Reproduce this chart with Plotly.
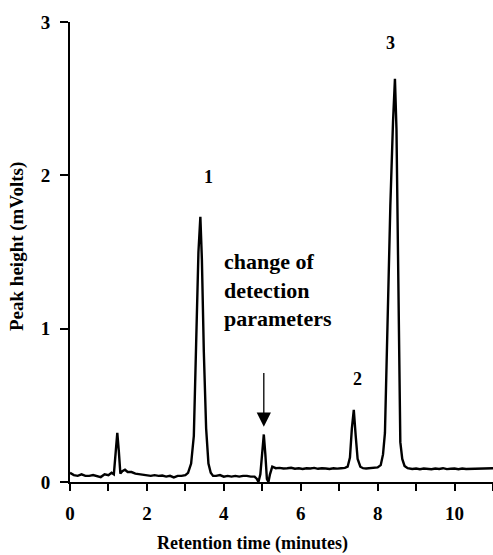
import plotly.graph_objects as go

# Chromatogram trace (time in minutes, height in mVolts)
time_min = [
    0.00, 0.10, 0.20, 0.30, 0.40, 0.50, 0.60, 0.70, 0.80, 0.90, 1.00, 1.08, 1.14,
    1.19, 1.23, 1.27, 1.31, 1.36, 1.43, 1.50, 1.60, 1.70, 1.80, 1.90, 2.00, 2.10,
    2.20, 2.30, 2.40, 2.50, 2.60, 2.70, 2.80, 2.90, 3.00, 3.07, 3.15, 3.22, 3.28,
    3.34, 3.39, 3.43, 3.48, 3.54, 3.60, 3.66, 3.72, 3.80, 3.90, 4.00, 4.10, 4.20,
    4.30, 4.40, 4.50, 4.60, 4.70, 4.80, 4.86, 4.90, 4.95, 5.00, 5.04, 5.08, 5.12,
    5.16, 5.20, 5.26, 5.35, 5.45, 5.55, 5.65, 5.75, 5.85, 5.95, 6.05, 6.15, 6.25,
    6.35, 6.45, 6.55, 6.65, 6.75, 6.85, 6.95, 7.05, 7.15, 7.22, 7.28, 7.33, 7.38,
    7.43, 7.48, 7.55, 7.62, 7.70, 7.80, 7.90, 8.00, 8.08, 8.14, 8.19, 8.25, 8.33,
    8.40, 8.45, 8.49, 8.53, 8.56, 8.59, 8.64, 8.70, 8.78, 8.90, 9.00, 9.10, 9.20,
    9.30, 9.40, 9.50, 9.60, 9.70, 9.80, 9.90, 10.00, 10.10, 10.20, 10.30, 10.40,
    10.50, 10.60, 10.70, 10.80, 10.90, 11.00,
]
height_mv = [
    0.060, 0.045, 0.040, 0.050, 0.040, 0.040, 0.045, 0.040, 0.032, 0.050, 0.045, 0.060, 0.050,
    0.200, 0.320, 0.200, 0.055, 0.070, 0.080, 0.065, 0.065, 0.055, 0.050, 0.050, 0.045, 0.040,
    0.045, 0.040, 0.042, 0.035, 0.040, 0.030, 0.040, 0.040, 0.045, 0.060, 0.120, 0.300, 0.900,
    1.500, 1.730, 1.450, 0.850, 0.350, 0.120, 0.060, 0.040, 0.040, 0.045, 0.035, 0.040, 0.035,
    0.040, 0.035, 0.040, 0.040, 0.035, 0.035, 0.020, 0.000, 0.050, 0.200, 0.310, 0.180, 0.020,
    0.000, 0.050, 0.100, 0.090, 0.092, 0.088, 0.090, 0.093, 0.087, 0.090, 0.085, 0.090, 0.088,
    0.092, 0.086, 0.090, 0.088, 0.085, 0.090, 0.087, 0.090, 0.092, 0.100, 0.160, 0.350, 0.470,
    0.300, 0.150, 0.100, 0.090, 0.088, 0.090, 0.092, 0.095, 0.110, 0.180, 0.320, 1.000, 1.800,
    2.350, 2.630, 2.300, 1.500, 0.800, 0.260, 0.150, 0.105, 0.090, 0.085, 0.088, 0.083, 0.088,
    0.085, 0.083, 0.088, 0.085, 0.090, 0.084, 0.086, 0.088, 0.083, 0.088, 0.085, 0.086,
    0.084, 0.088, 0.085, 0.086, 0.088, 0.090,
]

x_tick_vals = [0, 1, 2, 3, 4, 5, 6, 7, 8, 9, 10, 11]
x_tick_text = ["0", "", "2", "", "4", "", "6", "", "8", "", "10", ""]
y_tick_vals = [0, 1, 2, 3]
y_tick_text = ["0", "1", "2", "3"]

peak_labels = ["1", "2", "3"]
peak_label_x = [3.61, 7.48, 8.34]
peak_label_y = [1.99, 0.67, 2.86]

note_text = "change of<br>detection<br>parameters"
note_x = 3.96
note_y = 1.25
arrow_x = 5.04
arrow_tip_y = 0.36
arrow_tail_y = 0.72

FONT = "Liberation Serif"

fig = go.Figure()
fig.add_trace(go.Scatter(
    x=time_min, y=height_mv, mode="lines",
    line=dict(color="black", width=2.4), showlegend=False,
))

for t, px, py in zip(peak_labels, peak_label_x, peak_label_y):
    fig.add_annotation(x=px, y=py, text=f"<b>{t}</b>", showarrow=False,
                       font=dict(family=FONT, size=18, color="black"))

fig.add_annotation(x=note_x, y=note_y, text=f"<b>{note_text}</b>", showarrow=False,
                   xanchor="left", yanchor="middle", align="left",
                   font=dict(family=FONT, size=22, color="black"))

fig.add_annotation(x=arrow_x, y=arrow_tip_y, ax=arrow_x, ay=arrow_tail_y,
                   xref="x", yref="y", axref="x", ayref="y", text="",
                   showarrow=True, arrowhead=2, arrowsize=2.2, arrowwidth=1.3,
                   arrowcolor="black")

fig.add_annotation(x=(252 - 70) / 423, xref="paper", y=(482 - 543) / 460, yref="paper",
                   xanchor="center", yanchor="middle",
                   text="<b>Retention time (minutes)</b>", showarrow=False,
                   font=dict(family=FONT, size=18, color="black"))
fig.add_annotation(x=(17 - 70) / 423, xref="paper", y=(482 - 247) / 460, yref="paper",
                   xanchor="center", yanchor="middle",
                   text="<b>Peak height (mVolts)</b>", showarrow=False,
                   textangle=-90,
                   font=dict(family=FONT, size=19, color="black"))

fig.update_xaxes(
    range=[0, 11], showgrid=False, zeroline=False, automargin=False,
    showline=True, linecolor="black", linewidth=2,
    tickmode="array", tickvals=x_tick_vals,
    ticktext=[f"<b>{t}</b>" if t else "" for t in x_tick_text],
    ticks="outside", ticklen=7, tickwidth=2, tickcolor="black",
    ticklabelstandoff=6,
    tickfont=dict(family=FONT, size=19, color="black"),
)
fig.update_yaxes(
    range=[0, 3], showgrid=False, zeroline=False, automargin=False,
    showline=True, linecolor="black", linewidth=2,
    tickmode="array", tickvals=y_tick_vals, ticktext=[f"<b>{t}</b>" for t in y_tick_text],
    ticks="outside", ticklen=8, tickwidth=2, tickcolor="black",
    ticklabelstandoff=6,
    tickfont=dict(family=FONT, size=19, color="black"),
)

fig.update_layout(
    width=493, height=555,
    margin=dict(l=70, r=0, t=22, b=73),
    paper_bgcolor="white", plot_bgcolor="white",
)

fig.write_html("out.html", config={"displayModeBar": False},
               post_script="document.body.style.margin='0';document.body.style.overflow='hidden';")
